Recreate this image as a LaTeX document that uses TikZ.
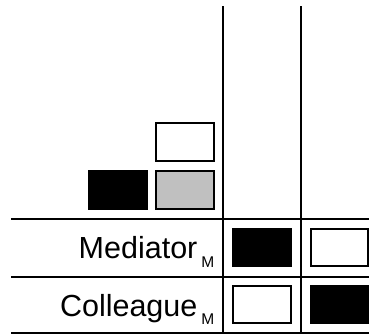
\documentclass[tikz,border=0pt]{standalone}
\usepackage{fontspec}
\setmainfont{Liberation Sans}
\usepackage{tikz}
\usetikzlibrary{positioning}
\definecolor{cellgray}{RGB}{192,192,192}
\newcommand{\subm}{\hspace{4pt}\raisebox{-8.5pt}{\fontsize{15.5}{16}\selectfont M}}

\begin{document}
\begin{tikzpicture}[
    x=1pt, y=-1pt,
    cell/.style={draw, rectangle, line width=2pt, minimum width=57.5pt, minimum height=37.5pt, inner sep=0pt},
    grid/.style={line width=2pt},
    label/.style={anchor=base east, inner sep=0pt, font=\fontsize{30.5}{32}\selectfont}
]
\useasboundingbox (0,0) rectangle (369,334);

% --- LEGEND ---
\node[cell, fill=white] (legtop) at (185.2, 141.8) {};
\node[cell, fill=cellgray] (leggray) at (185.2, 190.2) {};
\node[cell, fill=black] (legblack) at (118, 190.2) {};

% --- ROW LABELS ---
\node[label] (med) at (214.5, 258.6) {Mediator\subm};
\node[label] (col) at (214.5, 316.2) {Colleague\subm};

% --- CELLS ---
\node[cell, fill=black] (medA) at (262, 247.5) {};
\node[cell, fill=white] (medB) at (339.5, 247.5) {};
\node[cell, fill=white] (colA) at (262, 304.7) {};
\node[cell, fill=black] (colB) at (339.5, 304.7) {};

% --- GRID LINES ---
\coordinate (v1top) at (223.3, 6.5);
\coordinate (v1bot) at (223.3, 334);
\coordinate (v2top) at (300.7, 6.5);
\coordinate (v2bot) at (300.7, 334);
\coordinate (h1w) at (11, 219);
\coordinate (h1e) at (369, 219);
\coordinate (h2w) at (11, 276.7);
\coordinate (h2e) at (369, 276.7);
\coordinate (h3w) at (11, 333);
\coordinate (h3e) at (369, 333);

\draw[grid] (v1top) -- (v1bot);
\draw[grid] (v2top) -- (v2bot);
\draw[grid] (h1w) -- (h1e);
\draw[grid] (h2w) -- (h2e);
\draw[grid] (h3w) -- (h3e);
\end{tikzpicture}
\end{document}
